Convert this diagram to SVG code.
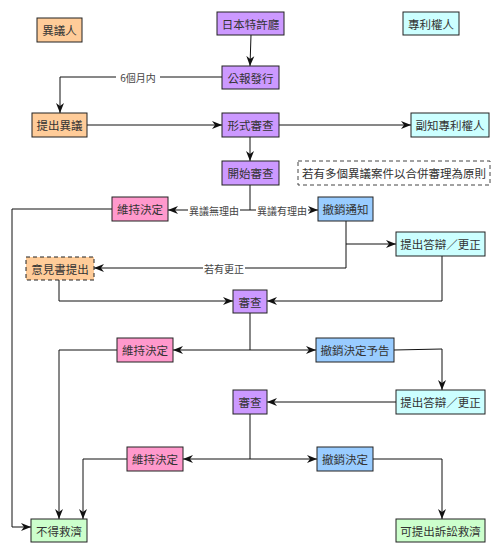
<svg xmlns="http://www.w3.org/2000/svg" width="500" height="554" viewBox="0 0 500 554">
<style>
text{font-family:"Noto Sans CJK TC","Noto Sans CJK JP",sans-serif;font-size:11.5px;fill:#333;text-anchor:middle;dominant-baseline:central}
.lbl{font-size:10px;fill:#444}
rect{stroke:#222;stroke-width:1}
.or{fill:#FFCC99}.pu{fill:#CC99FF}.cy{fill:#CCFFFF}.pk{fill:#FF99CC}.bl{fill:#99CCFF}.gr{fill:#CCFFCC}
.dash{stroke-dasharray:4 3}
.c path{fill:none;stroke:#111;stroke-width:1}
.c path.a{marker-end:url(#ah)}
.bg{fill:#fff;stroke:none}
</style>
<defs>
<marker id="ah" viewBox="0 0 10 10" refX="10" refY="5" markerWidth="10" markerHeight="10" markerUnits="userSpaceOnUse" orient="auto">
<path d="M0,1 L10,5 L0,9 L3,5 Z" fill="#111"/>
</marker>
</defs>
<rect width="500" height="554" fill="#fff" style="stroke:none"/>
<g class="c" id="connectors">
<path class="a" d="M251,35 L250,66"/>
<path class="a" d="M222,77 H60 V113"/>
<path class="a" d="M87,125 H222"/>
<path class="a" d="M279,125 H411"/>
<path class="a" d="M250,137 V161"/>
<path d="M250,185 V210"/>
<path class="a" d="M250,210 H168"/>
<path class="a" d="M250,210 H318"/>
<path class="a" d="M112,209 H12 V527 H31"/>
<path class="a" d="M346,221 V268 H94"/>
<path class="a" d="M346,244 H396"/>
<path class="a" d="M59,280 V301 H233"/>
<path class="a" d="M442,256 V301 H267"/>
<path d="M250,313 V350"/>
<path class="a" d="M250,350 H173"/>
<path class="a" d="M250,350 H316"/>
<path class="a" d="M117,350 H59 V519"/>
<path class="a" d="M394,350 L442,349 V390"/>
<path class="a" d="M396,402 H267"/>
<path d="M250,414 V459"/>
<path class="a" d="M250,459 H183"/>
<path class="a" d="M250,459 H317"/>
<path class="a" d="M127,459 H83 V519"/>
<path class="a" d="M373,459 H442 V519"/>
</g>
<g id="labels">
<rect class="bg" x="116" y="70" width="44" height="14"/>
<text class="lbl" x="138" y="77">6個月内</text>
<rect class="bg" x="188" y="203" width="52" height="14"/>
<text class="lbl" x="214" y="210">異議無理由</text>
<rect class="bg" x="256" y="203" width="52" height="14"/>
<text class="lbl" x="282" y="210">異議有理由</text>
<rect class="bg" x="203" y="261" width="42" height="14"/>
<text class="lbl" x="224" y="268">若有更正</text>
</g>
<g id="n_opponent"><rect class="or" x="37" y="18" width="45" height="24"/><text x="59.5" y="30">異議人</text></g>
<g id="n_jpo"><rect class="pu" x="217" y="12" width="67" height="23"/><text x="250.5" y="23.5">日本特許廳</text></g>
<g id="n_owner"><rect class="cy" x="403" y="12" width="56" height="23"/><text x="431" y="23.5">專利權人</text></g>
<g id="n_gazette"><rect class="pu" x="222" y="66" width="57" height="23"/><text x="250.5" y="77.5">公報發行</text></g>
<g id="n_file"><rect class="or" x="32" y="113" width="55" height="24"/><text x="59.5" y="125">提出異議</text></g>
<g id="n_formal"><rect class="pu" x="222" y="113" width="57" height="24"/><text x="250.5" y="125">形式審查</text></g>
<g id="n_notify"><rect class="cy" x="411" y="113" width="78" height="24"/><text x="450" y="125">副知專利權人</text></g>
<g id="n_start"><rect class="pu" x="222" y="161" width="57" height="24"/><text x="250.5" y="173">開始審查</text></g>
<g id="n_note"><rect class="dash" x="298" y="161" width="192" height="24" style="fill:#fff;stroke:#444"/><text x="394" y="173">若有多個異議案件以合併審理為原則</text></g>
<g id="n_keep1"><rect class="pk" x="112" y="197" width="56" height="24"/><text x="140" y="209">維持決定</text></g>
<g id="n_revoke_notice"><rect class="bl" x="318" y="197" width="55" height="24"/><text x="345.5" y="209">撤銷通知</text></g>
<g id="n_reply1"><rect class="cy" x="396" y="232" width="89" height="24"/><text x="440.5" y="244">提出答辯／更正</text></g>
<g id="n_opinion"><rect class="or dash" x="26" y="257" width="68" height="23"/><text x="60" y="268.5">意見書提出</text></g>
<g id="n_exam1"><rect class="pu" x="233" y="290" width="34" height="23"/><text x="250" y="301.5">審查</text></g>
<g id="n_keep2"><rect class="pk" x="117" y="338" width="56" height="24"/><text x="145" y="350">維持決定</text></g>
<g id="n_revoke_pre"><rect class="bl" x="316" y="338" width="78" height="24"/><text x="355" y="350">撤銷決定予告</text></g>
<g id="n_reply2"><rect class="cy" x="396" y="390" width="89" height="24"/><text x="440.5" y="402">提出答辯／更正</text></g>
<g id="n_exam2"><rect class="pu" x="233" y="390" width="34" height="24"/><text x="250" y="402">審查</text></g>
<g id="n_keep3"><rect class="pk" x="127" y="447" width="56" height="24"/><text x="155" y="459">維持決定</text></g>
<g id="n_revoke"><rect class="bl" x="317" y="447" width="56" height="24"/><text x="345" y="459">撤銷決定</text></g>
<g id="n_norelief"><rect class="gr" x="31" y="519" width="56" height="23"/><text x="59" y="530.5">不得救濟</text></g>
<g id="n_suit"><rect class="gr" x="396" y="519" width="89" height="23"/><text x="440.5" y="530.5">可提出訴訟救濟</text></g>
</svg>
